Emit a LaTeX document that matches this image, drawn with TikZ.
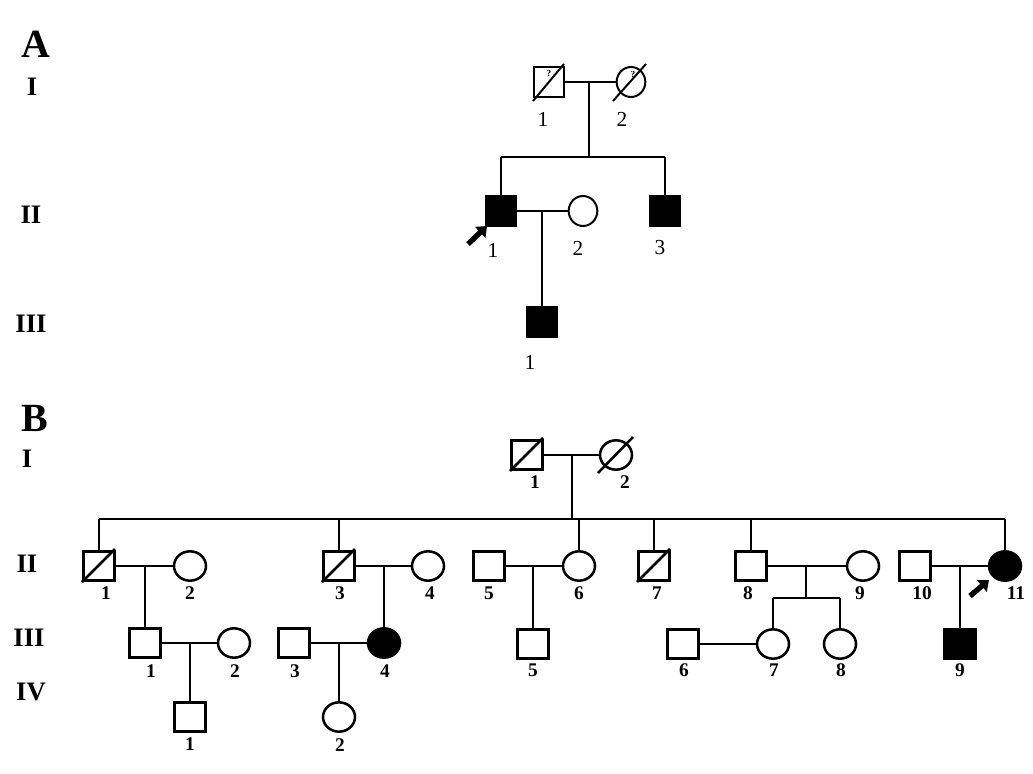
\documentclass[tikz,border=0pt]{standalone}
\usepackage{fontspec}
\setmainfont{Liberation Serif}
\usetikzlibrary{shapes.geometric,calc,arrows.meta}
\begin{document}
\begin{tikzpicture}[x=0.75pt,y=-0.75pt,
  lna/.style={line width=1.5pt},
  lnb/.style={line width=1.9pt},
  sqa/.style={draw, lna, rectangle, minimum width=22pt, minimum height=22.5pt, inner sep=0pt},
  cia/.style={draw, lna, ellipse, minimum width=21.5pt, minimum height=22.5pt, inner sep=0pt},
  sqb/.style={draw, lnb, rectangle, minimum width=23pt, minimum height=21.5pt, inner sep=0pt},
  cib/.style={draw, lnb, ellipse, minimum width=24pt, minimum height=22pt, inner sep=0pt},
  aff/.style={fill=black},
  panel/.style={font=\fontsize{30}{30}\selectfont\bfseries},
  gen/.style={font=\fontsize{20}{20}\selectfont\bfseries},
  laba/.style={font=\fontsize{16}{16}\selectfont},
  labb/.style={font=\fontsize{14.5}{14.5}\selectfont\bfseries},
  qm/.style={font=\fontsize{7}{7}\selectfont\bfseries, inner sep=0pt},
  proband/.style={line width=4pt, -{Triangle[length=7pt,width=11pt]}}
]
\useasboundingbox[fill=white] (0,0) rectangle (1033,774);

% ---------- labels ----------
\node[panel] (pA) at (36,44) {A};
\node[gen] (gAI) at (32,87) {I};
\node[gen] (gAII) at (31,215) {II};
\node[gen] (gAIII) at (31,324) {III};
\node[panel] (pB) at (35,418) {B};
\node[gen] (gBI) at (27,459) {I};
\node[gen] (gBII) at (27,564) {II};
\node[gen] (gBIII) at (29,638) {III};
\node[gen] (gBIV) at (31,692) {IV};

% ================= PANEL A =================
\node[sqa] (AI1) at (549,82) {};
\node[cia] (AI2) at (631,82) {};
\node[qm] (qA1) at (549,73) {?};
\node[qm] (qA2) at (633,74) {?};
\draw[lna] ($(AI1)+(-16,19)$) -- ($(AI1)+(15,-18)$);
\draw[lna] ($(AI2)+(-18,19)$) -- ($(AI2)+(15,-18)$);
\node[laba] (lAI1) at (543,119) {1};
\node[laba] (lAI2) at (622,119) {2};

\coordinate (Am1) at (589,82);
\coordinate (As1) at (589,157);
\coordinate (AsL) at (501,157);
\coordinate (AsR) at (665,157);
\draw[lna] (AI1.east) -- (AI2.west);
\draw[lna] (Am1) -- (As1);
\draw[lna] (AsL) -- (AsR);

\node[sqa,aff] (AII1) at (501,211) {};
\node[cia] (AII2) at (583,211) {};
\node[sqa,aff] (AII3) at (665,211) {};
\draw[lna] (AsL) -- (AII1.north);
\draw[lna] (AsR) -- (AII3.north);
\draw[lna] (AII1.east) -- (AII2.west);
\coordinate (Am2) at (542,211);
\node[sqa,aff] (AIII1) at (542,322) {};
\draw[lna] (Am2) -- (AIII1.north);

\node[laba] (lAII1) at (493,250) {1};
\node[laba] (lAII2) at (578,248) {2};
\node[laba] (lAII3) at (660,248) {3};
\node[laba] (lAIII1) at (530,362) {1};

\coordinate (arA1) at (468,244);
\coordinate (arA2) at (487,226);
\draw[proband] (arA1) -- (arA2);

% ================= PANEL B =================
% generation I
\node[sqb] (BI1) at (527,455) {};
\node[cib] (BI2) at (616,455) {};
\draw[lnb] ($(BI1)+(-17,16)$) -- ($(BI1)+(16,-17)$);
\draw[lnb] ($(BI2)+(-18,18)$) -- ($(BI2)+(17,-18)$);
\draw[lnb] (BI1.east) -- (BI2.west);
\node[labb] (lBI1) at (535,482) {1};
\node[labb] (lBI2) at (625,482) {2};
\coordinate (Bm1) at (572,455);
\coordinate (Bs1) at (572,519);
\draw[lnb] (Bm1) -- (Bs1);

% sibship of generation II
\coordinate (BsA) at (99,519);
\coordinate (BsB) at (339,519);
\coordinate (BsC) at (579,519);
\coordinate (BsD) at (654,519);
\coordinate (BsE) at (751,519);
\coordinate (BsF) at (1005,519);
\draw[lnb] (BsA) -- (BsF);

% generation II
\node[sqb] (BII1) at (99,566) {};
\node[cib] (BII2) at (190,566) {};
\node[sqb] (BII3) at (339,566) {};
\node[cib] (BII4) at (428,566) {};
\node[sqb] (BII5) at (489,566) {};
\node[cib] (BII6) at (579,566) {};
\node[sqb] (BII7) at (654,566) {};
\node[sqb] (BII8) at (751,566) {};
\node[cib] (BII9) at (863,566) {};
\node[sqb] (BII10) at (915,566) {};
\node[cib,aff] (BII11) at (1005,566) {};
\draw[lnb] ($(BII1)+(-17,16)$) -- ($(BII1)+(16,-17)$);
\draw[lnb] ($(BII3)+(-17,16)$) -- ($(BII3)+(16,-17)$);
\draw[lnb] ($(BII7)+(-17,16)$) -- ($(BII7)+(16,-17)$);

\draw[lnb] (BsA) -- (BII1.north);
\draw[lnb] (BsB) -- (BII3.north);
\draw[lnb] (BsC) -- (BII6.north);
\draw[lnb] (BsD) -- (BII7.north);
\draw[lnb] (BsE) -- (BII8.north);
\draw[lnb] (BsF) -- (BII11.north);

\draw[lnb] (BII1.east) -- (BII2.west);
\draw[lnb] (BII3.east) -- (BII4.west);
\draw[lnb] (BII5.east) -- (BII6.west);
\draw[lnb] (BII8.east) -- (BII9.west);
\draw[lnb] (BII10.east) -- (BII11.west);

\node[labb] (lBII1) at (106,593) {1};
\node[labb] (lBII2) at (190,593) {2};
\node[labb] (lBII3) at (340,593) {3};
\node[labb] (lBII4) at (430,593) {4};
\node[labb] (lBII5) at (489,593) {5};
\node[labb] (lBII6) at (579,593) {6};
\node[labb] (lBII7) at (657,593) {7};
\node[labb] (lBII8) at (748,593) {8};
\node[labb] (lBII9) at (860,593) {9};
\node[labb] (lBII10) at (922,593) {10};
\node[labb] (lBII11) at (1016,593) {11};

\coordinate (arB1) at (970,596);
\coordinate (arB2) at (989,580);
\draw[proband] (arB1) -- (arB2);

% generation III
\node[sqb] (BIII1) at (145,643) {};
\node[cib] (BIII2) at (234,643) {};
\node[sqb] (BIII3) at (294,643) {};
\node[cib,aff] (BIII4) at (384,643) {};
\node[sqb] (BIII5) at (533,644) {};
\node[sqb] (BIII6) at (683,644) {};
\node[cib] (BIII7) at (773,644) {};
\node[cib] (BIII8) at (840,644) {};
\node[sqb,aff] (BIII9) at (960,644) {};

\coordinate (Bm21) at (145,566);
\coordinate (Bm23) at (384,566);
\coordinate (Bm25) at (533,566);
\coordinate (Bm28) at (806,566);
\coordinate (Bm210) at (960,566);
\coordinate (Bs8) at (806,598);
\coordinate (Bs8L) at (773,598);
\coordinate (Bs8R) at (840,598);
\draw[lnb] (Bm21) -- (BIII1.north);
\draw[lnb] (Bm23) -- (BIII4.north);
\draw[lnb] (Bm25) -- (BIII5.north);
\draw[lnb] (Bm28) -- (Bs8);
\draw[lnb] (Bs8L) -- (Bs8R);
\draw[lnb] (Bs8L) -- (BIII7.north);
\draw[lnb] (Bs8R) -- (BIII8.north);
\draw[lnb] (Bm210) -- (BIII9.north);

\draw[lnb] (BIII1.east) -- (BIII2.west);
\draw[lnb] (BIII3.east) -- (BIII4.west);
\draw[lnb] (BIII6.east) -- (BIII7.west);

\node[labb] (lBIII1) at (151,671) {1};
\node[labb] (lBIII2) at (235,671) {2};
\node[labb] (lBIII3) at (295,671) {3};
\node[labb] (lBIII4) at (385,671) {4};
\node[labb] (lBIII5) at (533,670) {5};
\node[labb] (lBIII6) at (684,670) {6};
\node[labb] (lBIII7) at (774,670) {7};
\node[labb] (lBIII8) at (841,670) {8};
\node[labb] (lBIII9) at (960,670) {9};

% generation IV
\node[sqb] (BIV1) at (190,717) {};
\node[cib] (BIV2) at (339,717) {};
\coordinate (Bm31) at (190,643);
\coordinate (Bm33) at (339,643);
\draw[lnb] (Bm31) -- (BIV1.north);
\draw[lnb] (Bm33) -- (BIV2.north);
\node[labb] (lBIV1) at (190,744) {1};
\node[labb] (lBIV2) at (340,745) {2};
\end{tikzpicture}
\end{document}
